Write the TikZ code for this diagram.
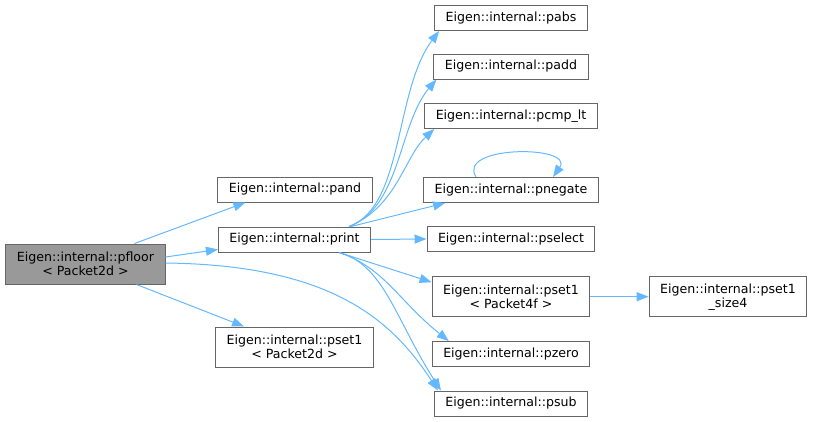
\documentclass[tikz,border=0pt]{standalone}
\usepackage{fontspec}
\setmainfont{DejaVu Sans}
\usetikzlibrary{shapes,arrows.meta,positioning,calc}
\usepackage{xcolor}
\definecolor{edgeblue}{HTML}{63B8FF}
\definecolor{boxline}{HTML}{666666}
\definecolor{rootfill}{HTML}{999999}

\begin{document}
\begin{tikzpicture}[
  x=1pt, y=-1pt,
  box/.style={rectangle, draw=boxline, fill=white, line width=1pt, minimum height=25pt, inner xsep=11pt, inner ysep=2pt, align=center, font=\fontsize{12.6}{14}\selectfont},
  tall/.style={minimum height=40pt},
  arrow/.style={-{Triangle[length=12pt,width=9pt]}, color=edgeblue, line width=1pt}
]
  \useasboundingbox (0,0) rectangle (813,421);
  % caller and first level
  \node[box, tall, fill=rootfill] (pfloor) at (85.5,264) {Eigen::internal::pfloor\\< Packet2d >};
  \node[box] (pand) at (295,189.5) {Eigen::internal::pand};
  \node[box] (print) at (294.5,239.5) {Eigen::internal::print};
  \node[box, tall] (pset1p2d) at (294.5,347) {Eigen::internal::pset1\\< Packet2d >};
  % callees of print
  \node[box] (pabs) at (511,18) {Eigen::internal::pabs};
  \node[box] (padd) at (511,66.5) {Eigen::internal::padd};
  \node[box] (pcmplt) at (511,116) {Eigen::internal::pcmp\_lt};
  \node[box] (pnegate) at (511,190) {Eigen::internal::pnegate};
  \node[box] (pselect) at (511,239) {Eigen::internal::pselect};
  \node[box, tall] (pset1p4f) at (511,296.7) {Eigen::internal::pset1\\< Packet4f >};
  \node[box] (pzero) at (511,354) {Eigen::internal::pzero};
  \node[box] (psub) at (511,403.5) {Eigen::internal::psub};
  \node[box, tall] (size4) at (728,296.7) {Eigen::internal::pset1\\\_size4};

  \draw[arrow] ([xshift=-31pt]pfloor.north east) -- ([xshift=28pt]pand.south west);
  \draw[arrow] ([yshift=7pt]pfloor.east) -- ([yshift=-10pt]print.west);
  \draw[arrow] ([xshift=-29pt]pfloor.south east) -- ([xshift=29pt]pset1p2d.north west);
  \draw[arrow] ([yshift=1pt]pfloor.east) .. controls +(164,2) and +(-47,-72) .. ([xshift=4pt]psub.north west);

  \draw[arrow] ([xshift=-22pt]print.north east) .. controls +(55,-20) and +(-45,60) .. ([xshift=5pt]pabs.south west);
  \draw[arrow] ([xshift=-22pt]print.north east) .. controls +(52,-20) and +(-38,45) .. ([xshift=3pt]padd.south west);
  \draw[arrow] ([xshift=-22pt]print.north east) .. controls +(48,-20) and +(-30,28) .. ([xshift=10pt]pcmplt.south west);
  \draw[arrow] ([xshift=-20pt]print.north east) -- ([xshift=22pt]pnegate.south west);
  \draw[arrow] ([xshift=-35pt]pnegate.north) .. controls +(-20,-32) and +(22,-32) .. ([xshift=42pt]pnegate.north);
  \draw[arrow] (print.east) -- (pselect.west);
  \draw[arrow] ([xshift=-32pt]print.south east) -- ([yshift=-6pt]pset1p4f.north west);
  \draw[arrow] ([xshift=-32pt]print.south east) .. controls +(45,15) and +(-50,-40) .. ([xshift=17pt]pzero.north west);
  \draw[arrow] ([xshift=-32pt]print.south east) .. controls +(45,12) and +(-45,-70) .. ([xshift=7pt]psub.north west);
  \draw[arrow] (pset1p4f.east) -- (size4.west);
\end{tikzpicture}
\end{document}
